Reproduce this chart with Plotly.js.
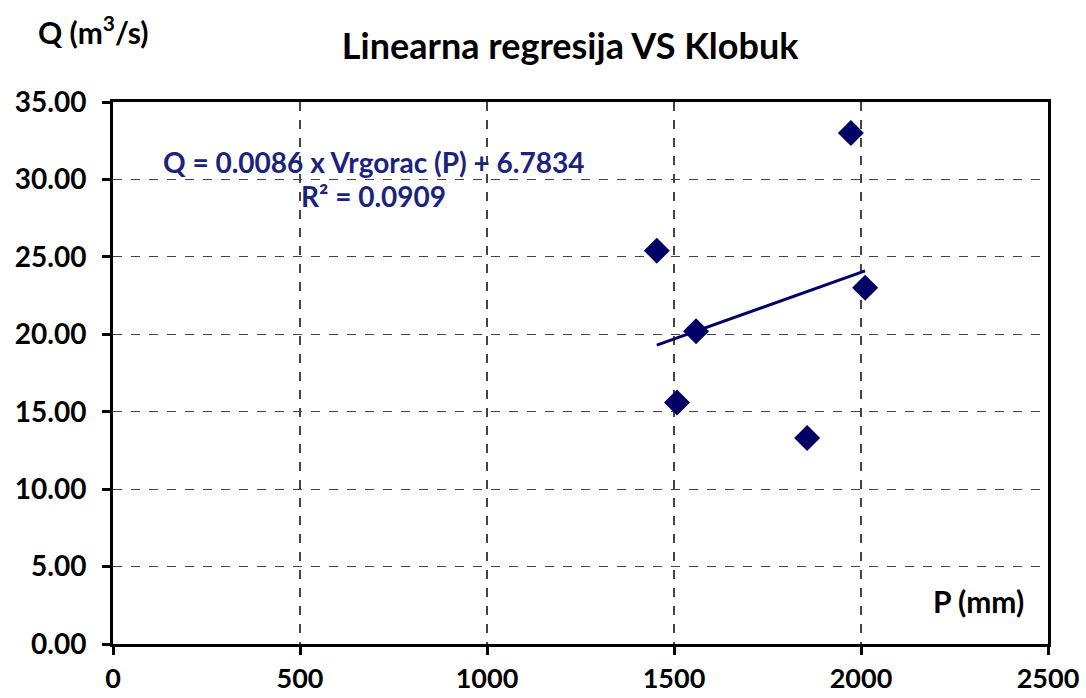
<!DOCTYPE html>
<html><head><meta charset="utf-8">
<script src="https://cdn.plot.ly/plotly-3.0.1.min.js"></script>
<style>html,body{margin:0;padding:0;background:#fff}#c{width:1086px;height:698px}</style>
</head><body><div id="c"></div>
<script>
const precipP = [1454, 1973, 2011, 1559, 1508, 1856];
const flowQ = [25.4, 33.0, 23.0, 20.2, 15.6, 13.3];
const trendX = [1454, 2011];
const trendY = [19.3, 24.1];
const xTicks = [0, 500, 1000, 1500, 2000, 2500];
const yTicks = [0, 5, 10, 15, 20, 25, 30, 35];

const navy = '#000066';
const font = 'Lato, "Open Sans", sans-serif';

const traces = [
  {x: trendX, y: trendY, mode: 'lines', line: {color: navy, width: 3}, hoverinfo: 'skip'},
  {x: precipP, y: flowQ, mode: 'markers', marker: {symbol: 'diamond', size: 20, color: navy}}
];

const layout = {
  width: 1086, height: 698,
  margin: {l: 113, r: 38, t: 102, b: 54},
  paper_bgcolor: '#fff', plot_bgcolor: '#fff',
  showlegend: false,
  font: {family: font, color: '#000'},
  title: {text: '<b>Linearna regresija VS Klobuk</b>', x: 0.525, xanchor: 'center', y: 0.934, yanchor: 'middle',
          font: {size: 36, family: font, color: '#000'}},
  xaxis: {range: [0, 2500], tickvals: xTicks, ticktext: xTicks.map(String),
          showline: true, linecolor: '#000', linewidth: 3, mirror: true,
          ticks: 'outside', ticklen: 8, tickwidth: 3, tickcolor: '#000',
          showgrid: true, gridcolor: '#444', griddash: 'dash', gridwidth: 1.2,
          zeroline: false, ticklabelstandoff: 1,
          tickfont: {size: 27, family: font, color: '#000', weight: 'bold'}},
  yaxis: {range: [0, 35], tickvals: yTicks, ticktext: yTicks.map(v => v.toFixed(2)),
          showline: true, linecolor: '#000', linewidth: 3, mirror: true,
          ticks: 'outside', ticklen: 8, tickwidth: 3, tickcolor: '#000',
          showgrid: true, gridcolor: '#444', griddash: 'dash', gridwidth: 1.2,
          zeroline: false, ticklabelstandoff: 10,
          tickfont: {size: 28, family: font, color: '#000', weight: 'bold'}},
  annotations: [
    {xref: 'paper', yref: 'paper', x: 0.279, y: 0.889, xanchor: 'center', yanchor: 'middle', showarrow: false,
     text: '<b>Q = 0.0086 x Vrgorac (P) + 6.7834</b>', font: {size: 28, family: font, color: '#1a237e'}},
    {xref: 'paper', yref: 'paper', x: 0.279, y: 0.826, xanchor: 'center', yanchor: 'middle', showarrow: false,
     text: '<b>R² = 0.0909</b>', font: {size: 28, family: font, color: '#1a237e'}},
    {xref: 'paper', yref: 'paper', x: -0.082, y: 1.133, xanchor: 'left', yanchor: 'middle', showarrow: false,
     text: '<b>Q (m<sup>3</sup>/s)</b>', font: {size: 30, family: font, color: '#000'}},
    {xref: 'paper', yref: 'paper', x: 0.976, y: 0.079, xanchor: 'right', yanchor: 'middle', showarrow: false,
     text: '<b>P (mm)</b>', font: {size: 30, family: font, color: '#000'}}
  ]
};
Plotly.newPlot('c', traces, layout, {displayModeBar: false, staticPlot: true});
</script></body></html>
